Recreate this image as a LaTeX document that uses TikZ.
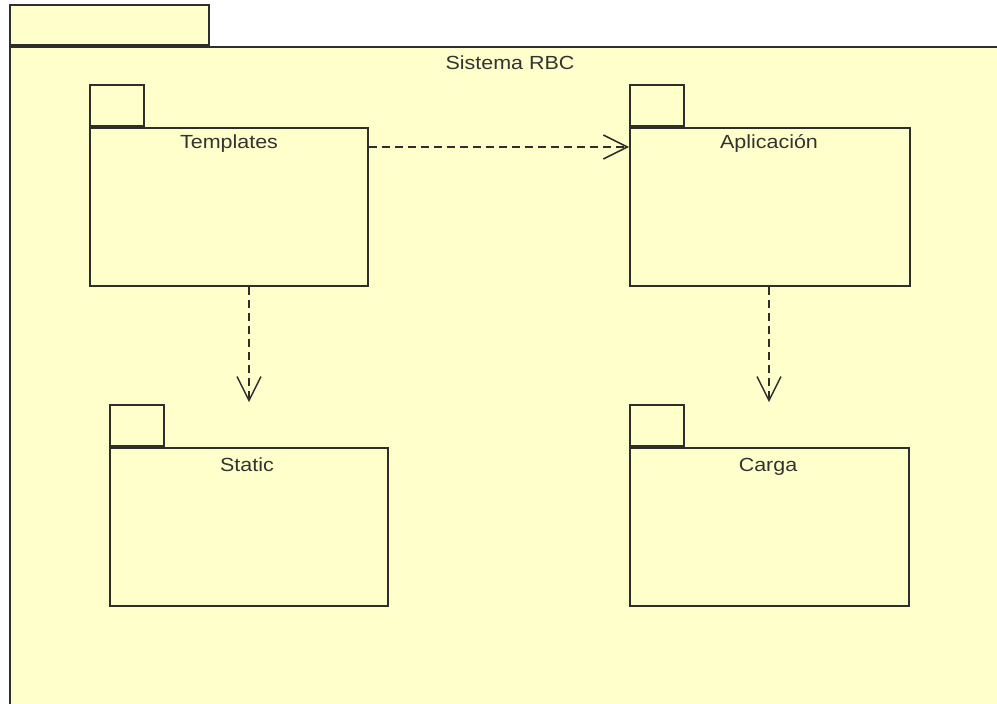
\documentclass[tikz,border=0pt]{standalone}
\usepackage{fontspec}
\setmainfont{Liberation Sans}
\usetikzlibrary{arrows.meta}
\definecolor{pkgfill}{HTML}{FFFFCC}
\definecolor{pkgline}{HTML}{2E2E2A}
\definecolor{pkgtext}{HTML}{333330}

\begin{document}
\begin{tikzpicture}[x=1pt,y=-1pt,
  pkgbody/.style={draw=pkgline, fill=pkgfill, line width=1.8pt, rectangle,
    inner sep=0pt, anchor=north west},
  pkgtab/.style={draw=pkgline, fill=pkgfill, line width=1.8pt, rectangle,
    inner sep=0pt, anchor=south west, minimum width=54pt, minimum height=41pt},
  pkgname/.style={text=pkgtext, font=\fontsize{19}{22}\selectfont, inner sep=0pt,
    anchor=base, xscale=1.13},
  dep/.style={draw=pkgline, line width=1.5pt, dash pattern=on 8pt off 5pt,
    -{Straight Barb[length=24pt, width=24pt, line width=1.5pt]}}]

\useasboundingbox (0,0) rectangle (997,704);
\clip (0,0) rectangle (997,704);

% enclosing package
\node[pkgtab, minimum width=199pt, minimum height=40pt] (systab) at (9,46) {};
\node[pkgbody, minimum width=1002pt, minimum height=680pt] (sys) at (9,46) {};
\node[pkgname] (sysname) at (510,69) {Sistema RBC};

% inner packages
\node[pkgbody, minimum width=278pt, minimum height=158pt] (tmpl) at (89,127) {};
\node[pkgtab] (tmpltab) at (tmpl.north west) {};
\node[pkgname] (tmplname) at (229,148) {Templates};

\node[pkgbody, minimum width=280pt, minimum height=158pt] (apl) at (629,127) {};
\node[pkgtab] (apltab) at (apl.north west) {};
\node[pkgname] (aplname) at (769,148) {Aplicación};

\node[pkgbody, minimum width=278pt, minimum height=158pt] (stat) at (109,447) {};
\node[pkgtab] (stattab) at (stat.north west) {};
\node[pkgname] (statname) at (247,471) {Static};

\node[pkgbody, minimum width=279pt, minimum height=158pt] (carga) at (629,447) {};
\node[pkgtab] (cargatab) at (carga.north west) {};
\node[pkgname] (carganame) at (768,471) {Carga};

% dependencies
\coordinate (d1s) at (tmpl.east |- 0,147);
\coordinate (d1e) at (apl.west |- 0,147);
\draw[dep] (d1s) -- (d1e);

\coordinate (d2s) at (249,0 |- tmpl.south);
\coordinate (d2e) at ([yshift=2pt]249,0 |- stattab.north);
\draw[dep] (d2s) -- (d2e);

\coordinate (d3s) at (769,0 |- apl.south);
\coordinate (d3e) at ([yshift=2pt]769,0 |- cargatab.north);
\draw[dep] (d3s) -- (d3e);
\end{tikzpicture}
\end{document}
